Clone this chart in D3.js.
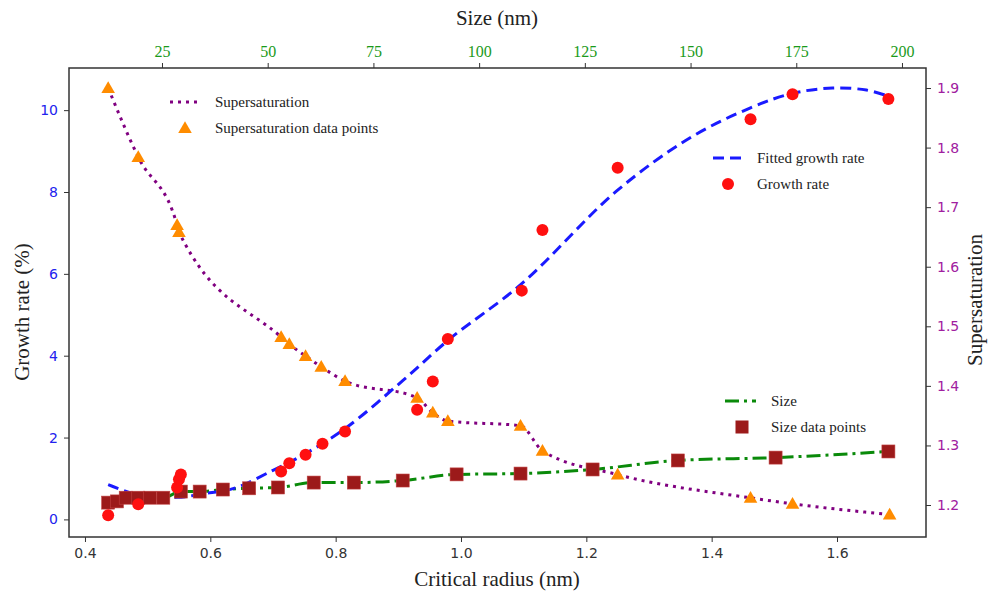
<!DOCTYPE html>
<html><head><meta charset="utf-8">
<script src="https://cdn.jsdelivr.net/npm/d3@7"></script>
<style>body{margin:0;background:#fff}svg{display:block}</style>
</head><body>
<svg id="chart" width="988" height="591"></svg>
<script>
// ---- data ----
const growthR = [0.437,0.485,0.547,0.550,0.553,0.713,0.726,0.752,0.779,0.815,0.930,0.955,0.979,1.097,1.130,1.250,1.462,1.529,1.682];
const growthG = [0.10,0.37,0.78,0.98,1.10,1.17,1.37,1.58,1.85,2.15,2.68,3.37,4.41,5.59,7.07,8.59,9.78,10.39,10.27];

const fitR = [0.437,0.488,0.547,0.591,0.642,0.700,0.743,0.815,0.907,0.982,1.097,1.248,1.365,1.461,1.529,1.593,1.647,1.682];
const fitG = [0.85,0.59,0.54,0.63,0.78,1.20,1.53,2.22,3.39,4.41,5.76,8.02,9.32,10.05,10.41,10.54,10.49,10.34];

const satR = [0.437,0.485,0.547,0.550,0.713,0.726,0.752,0.777,0.815,0.930,0.955,0.979,1.095,1.130,1.250,1.462,1.529,1.684];
const satS = [1.900,1.784,1.670,1.658,1.482,1.470,1.450,1.432,1.408,1.380,1.355,1.341,1.333,1.291,1.251,1.212,1.202,1.184];

const sizeR = [0.437,0.451,0.465,0.485,0.504,0.525,0.553,0.583,0.620,0.662,0.708,0.765,0.829,0.907,0.993,1.095,1.210,1.346,1.502,1.682];
const sizeV = [0.41,0.44,0.53,0.53,0.53,0.53,0.68,0.68,0.73,0.76,0.78,0.90,0.90,0.95,1.10,1.12,1.22,1.44,1.51,1.66];

const bottomTicks = [0.4,0.6,0.8,1.0,1.2,1.4,1.6];
const topTicks = [25,50,75,100,125,150,175,200];
const leftTicks = [0,2,4,6,8,10];
const rightTicks = [1.2,1.3,1.4,1.5,1.6,1.7,1.8,1.9];

// ---- layout ----
const svg = d3.select("#chart");
const m = {l:69, r:62, t:68, b:54};
const W = 988 - m.l - m.r, H = 591 - m.t - m.b;
const g = svg.append("g").attr("transform", `translate(${m.l},${m.t})`);

const x = d3.scaleLinear().domain([0.3745, 1.742]).range([0, W]);
const xTop = d3.scaleLinear().domain([3.01, 205.68]).range([0, W]);
const yL = d3.scaleLinear().domain([-0.43, 11.03]).range([H, 0]);
const yR = d3.scaleLinear().domain([1.1463, 1.9336]).range([H, 0]);

const serif = "'Liberation Serif','Times New Roman',serif";
const sans = "'DejaVu Sans',sans-serif";

// axes
const axB = g.append("g").attr("transform", `translate(0,${H})`)
  .call(d3.axisBottom(x).tickValues(bottomTicks).tickFormat(d3.format(".1f")).tickSizeOuter(0).tickSize(5).tickPadding(6));
axB.selectAll("text").style("font-family", sans).style("font-size","14px").attr("fill","#333");
const axT = g.append("g")
  .call(d3.axisTop(xTop).tickValues(topTicks).tickFormat(d3.format("d")).tickSizeOuter(0).tickSize(5).tickPadding(6));
axT.selectAll("text").style("font-family", serif).style("font-size","16px").attr("fill","#1a9a1a");
const axL = g.append("g")
  .call(d3.axisLeft(yL).tickValues(leftTicks).tickFormat(d3.format("d")).tickSizeOuter(0).tickSize(5).tickPadding(6));
axL.selectAll("text").style("font-family", sans).style("font-size","14px").attr("fill","#2222ee");
const axR = g.append("g").attr("transform", `translate(${W},0)`)
  .call(d3.axisRight(yR).tickValues(rightTicks).tickFormat(d3.format(".1f")).tickSizeOuter(0).tickSize(5).tickPadding(6));
axR.selectAll("text").style("font-family", sans).style("font-size","14px").attr("fill","#a020a0");
[axB,axT,axL,axR].forEach(a => { a.select(".domain").remove(); a.selectAll("line").attr("stroke","#333"); });

// frame
g.append("rect").attr("width", W).attr("height", H).attr("fill","none").attr("stroke","#333").attr("stroke-width",1.5);

// titles
svg.append("text").attr("x", 497).attr("y", 586).attr("text-anchor","middle")
  .style("font-family", serif).style("font-size","21px").attr("fill","#222").text("Critical radius (nm)");
svg.append("text").attr("x", 497).attr("y", 25).attr("text-anchor","middle")
  .style("font-family", serif).style("font-size","21px").attr("fill","#222").text("Size (nm)");
svg.append("text").attr("transform","translate(29,312) rotate(-90)").attr("text-anchor","middle")
  .style("font-family", serif).style("font-size","21px").attr("fill","#222").text("Growth rate (%)");
svg.append("text").attr("transform","translate(982,300) rotate(-90)").attr("text-anchor","middle")
  .style("font-family", serif).style("font-size","21px").attr("fill","#222").text("Supersaturation");

const plot = g.append("g");

// lines
const satData = satR.map((r,i)=>({r, v:satS[i]}));
const fitData = fitR.map((r,i)=>({r, v:fitG[i]}));
const sizeData = sizeR.map((r,i)=>({r, v:sizeV[i]}));
const growthData = growthR.map((r,i)=>({r, v:growthG[i]}));

const BLUE="#1a1aff", PURPLE="#800080", GREEN="#0a8a0a", RED="#ff1010", ORANGE="#ff8c00", BROWN="#9c1a1a";

plot.append("path").datum(sizeData)
  .attr("d", d3.line().x(d=>x(d.r)).y(d=>yL(d.v)).curve(d3.curveMonotoneX))
  .attr("fill","none").attr("stroke",GREEN).attr("stroke-width",3).attr("stroke-dasharray","14,5,3,5");

plot.append("path").datum(satData)
  .attr("d", d3.line().x(d=>x(d.r)).y(d=>yR(d.v)).curve(d3.curveMonotoneX))
  .attr("fill","none").attr("stroke",PURPLE).attr("stroke-width",3).attr("stroke-dasharray","3,5");

plot.append("path").datum(fitData)
  .attr("d", d3.line().x(d=>x(d.r)).y(d=>yL(d.v)).curve(d3.curveCatmullRom.alpha(0.5)))
  .attr("fill","none").attr("stroke",BLUE).attr("stroke-width",3).attr("stroke-dasharray","11,6");

// markers
const tri = d3.symbol().type(d3.symbolTriangle).size(80);
plot.selectAll(".sq").data(sizeData).join("rect")
  .attr("x", d=>x(d.r)-6.5).attr("y", d=>yL(d.v)-6.5).attr("width",13).attr("height",13)
  .attr("fill",BROWN).attr("stroke","#c04040").attr("stroke-width",0.6);
plot.selectAll(".ci").data(growthData).join("circle")
  .attr("cx", d=>x(d.r)).attr("cy", d=>yL(d.v)).attr("r",6).attr("fill",RED);
plot.selectAll(".tr").data(satData).join("path")
  .attr("d", tri).attr("transform", d=>`translate(${x(d.r)},${yR(d.v)+1})`).attr("fill",ORANGE);

// legends
function legendText(px, py, t){
  svg.append("text").attr("x",px).attr("y",py+5).style("font-family",serif).style("font-size","15px").attr("fill","#222").text(t);
}
// legend 1
svg.append("line").attr("x1",170).attr("x2",200).attr("y1",102).attr("y2",102)
  .attr("stroke",PURPLE).attr("stroke-width",3).attr("stroke-dasharray","3,5");
legendText(215,102,"Supersaturation");
svg.append("path").attr("d",tri).attr("transform","translate(185,129)").attr("fill",ORANGE);
legendText(215,128,"Supersaturation data points");
// legend 2
svg.append("line").attr("x1",713).attr("x2",743).attr("y1",158).attr("y2",158)
  .attr("stroke",BLUE).attr("stroke-width",3).attr("stroke-dasharray","11,6");
legendText(757,158,"Fitted growth rate");
svg.append("circle").attr("cx",728).attr("cy",184).attr("r",6).attr("fill",RED);
legendText(757,184,"Growth rate");
// legend 3
svg.append("line").attr("x1",725).attr("x2",756).attr("y1",401).attr("y2",401)
  .attr("stroke",GREEN).attr("stroke-width",3).attr("stroke-dasharray","14,5,3,5");
legendText(771,401,"Size");
svg.append("rect").attr("x",742-6.5).attr("y",427-6.5).attr("width",13).attr("height",13).attr("fill",BROWN);
legendText(771,427,"Size data points");
</script>
</body></html>
